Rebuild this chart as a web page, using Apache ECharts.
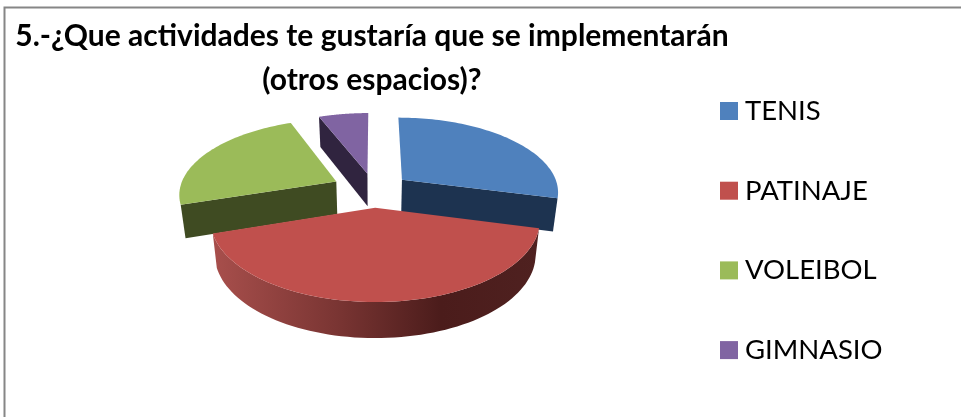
<!DOCTYPE html>
<html><head><meta charset="utf-8">
<style>html,body{margin:0;padding:0;background:#fff}#c{width:961px;height:417px}</style>
<script src="https://cdn.jsdelivr.net/npm/echarts@6/dist/echarts.min.js"></script>
</head><body><div id="c"></div>
<script>
var categories = ['TENIS', 'PATINAJE', 'VOLEIBOL', 'GIMNASIO'];
var values = [29, 41, 24, 6];
var explode = [0.23, 0.23, 0.27, 0.23];
var topColors = ['#4f81bd', '#c0504d', '#9bbb59', '#8064a2'];
var cutColors = ['#1d3350', '#4e1f1d', '#3f4b22', '#30243f'];
var layers = [2, 3, 2, 1];

var CX = 374, CY = 190, RX = 157, RY = 74.3, K = 0.15, DEPTH = 33;
var total = values.reduce(function (a, b) { return a + b; }, 0);

function project(u, v, h) {
  var s = 1 / (1 - K * v);
  return [CX + RX * u * s * (1 - 0.025 * h), CY + RY * v * s + h * DEPTH * (1 + 0.075 * v)];
}
function sliceShapes(i) {
  var before = 0;
  for (var j = 0; j < i; j++) before += values[j];
  var a0 = before / total * 2 * Math.PI;
  var a1 = (before + values[i]) / total * 2 * Math.PI;
  var mid = (a0 + a1) / 2;
  var ou = explode[i] * Math.sin(mid), ov = -explode[i] * Math.cos(mid);
  var steps = 72, arc = [], arcLow = [];
  for (var t = 0; t <= steps; t++) {
    var a = a0 + (a1 - a0) * t / steps;
    var u = ou + Math.sin(a), v = ov - Math.cos(a);
    arc.push(project(u, v, 0));
    arcLow.push(project(u, v, 1));
  }
  var apex = project(ou, ov, 0), apexLow = project(ou, ov, 1);
  var out = [];
  function poly(points, fill, z2) {
    out.push({ type: 'polygon', z2: z2, shape: { points: points },
      style: { fill: fill, stroke: null } });
  }
  if (categories[i] === 'PATINAJE') {
    poly(arc.concat(arcLow.slice().reverse()), new echarts.graphic.LinearGradient(1, 0, 0, 0, [
      { offset: 0, color: '#4f2120' },
      { offset: 0.3, color: '#4b1c1b' },
      { offset: 0.62, color: '#7a3533' },
      { offset: 1, color: '#a84f4c' }
    ]), 1);
  } else if (categories[i] === 'TENIS') {
    poly([apex, arc[steps], arcLow[steps], apexLow], cutColors[i], 1);
  } else {
    poly([apex, arc[0], arcLow[0], apexLow], cutColors[i], 1);
  }
  poly([apex].concat(arc), topColors[i], 2);
  return out;
}
var series = categories.map(function (name, i) {
  return {
    type: 'custom', name: name, coordinateSystem: 'none', z: layers[i],
    itemStyle: { color: topColors[i] },
    data: [values[i]],
    renderItem: function () { return { type: 'group', children: sliceShapes(i) }; }
  };
});
var chart = echarts.init(document.getElementById('c'), null, { renderer: 'canvas' });
chart.setOption({
  animation: false,
  backgroundColor: '#ffffff',
  title: {
    text: '5.-¿Que actividades te gustaría que se implementarán\n(otros espacios)?',
    left: 367, top: 9, textAlign: 'center',
    textStyle: { fontFamily: 'Lato', fontWeight: 'bold', fontSize: 30, lineHeight: 44, color: '#000' }
  },
  legend: {
    data: categories, orient: 'vertical', left: 715, top: 91,
    icon: 'rect', itemWidth: 18, itemHeight: 18, itemGap: 49.7,
    selectedMode: false,
    textStyle: { fontFamily: 'Lato', fontSize: 27.5, lineHeight: 30, color: '#000', padding: [0, 0, 0, 2] }
  },
  graphic: [{ type: 'polyline', silent: true, shape: { points: [[4.5, 417], [4.5, 7.5], [961, 7.5]] },
    style: { stroke: '#868686', lineWidth: 2, fill: null } }],
  series: series
});
</script></body></html>
